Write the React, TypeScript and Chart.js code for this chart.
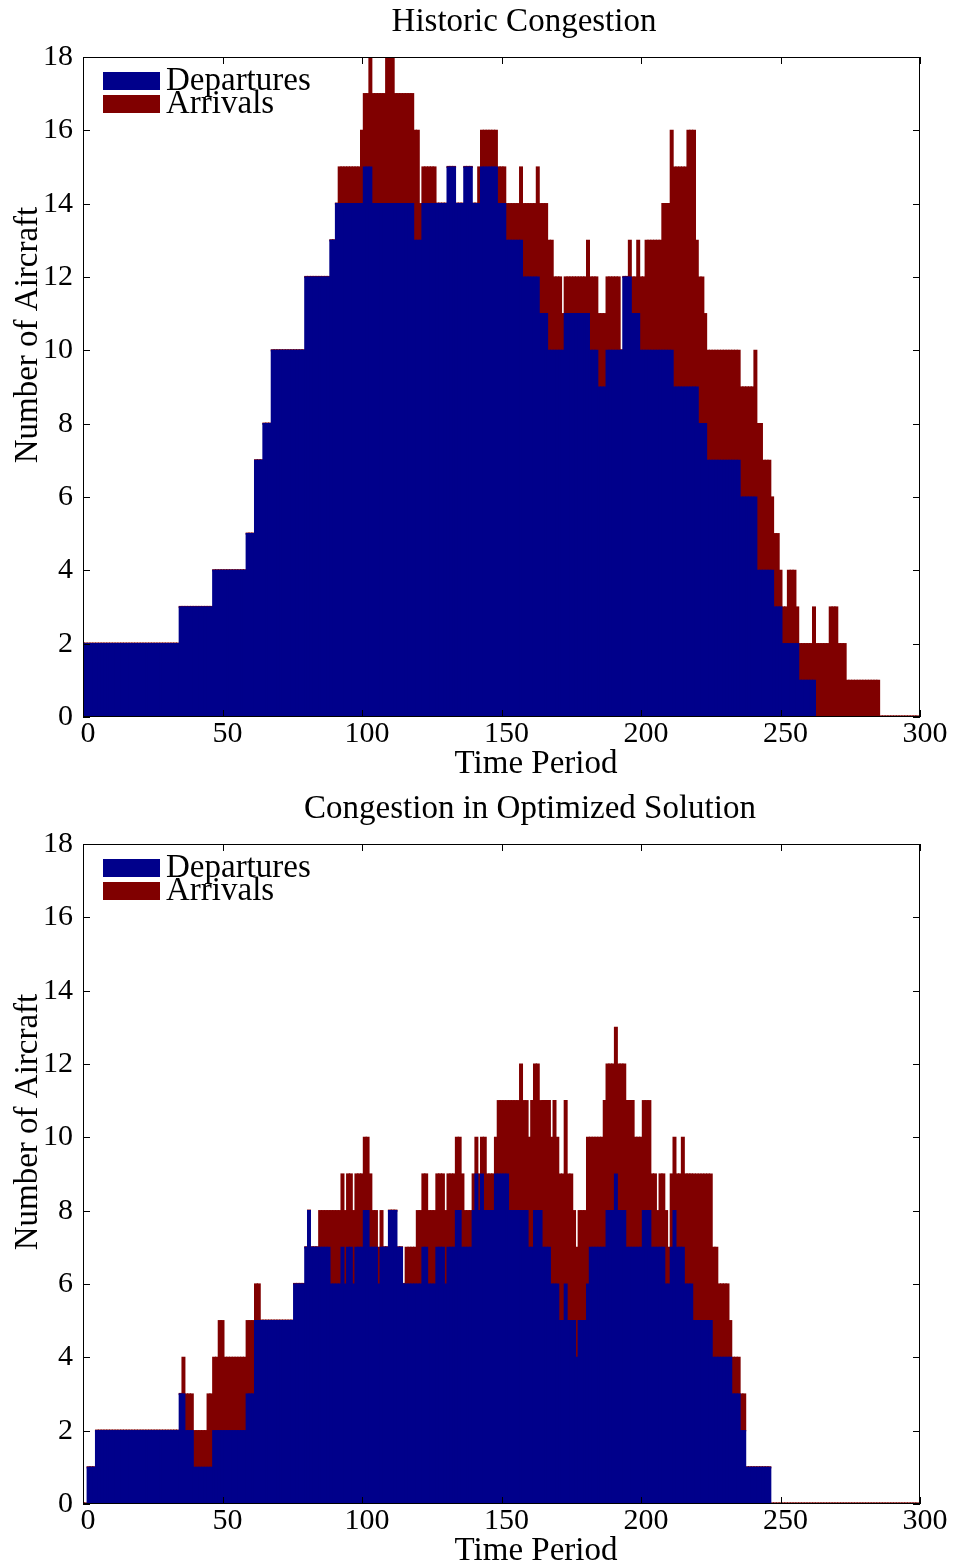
import React, { useEffect, useRef } from "react";
import { Chart, registerables } from "chart.js";

Chart.register(...registerables);

// ---------- data ----------
const TIME_PERIODS: number[] = Array.from({ length: 300 }, (_, i) => i);
const X_TICKS = [0, 50, 100, 150, 200, 250, 300];
const Y_TICKS = [0, 2, 4, 6, 8, 10, 12, 14, 16, 18];
const SERIES_LABELS = ["Departures", "Arrivals"];
const CHART_TITLES = ["Historic Congestion", "Congestion in Optimized Solution"];
const X_TITLE = "Time Period";
const Y_TITLE = "Number of Aircraft";

const historicDepartures = [
  2, 2, 2, 2, 2, 2, 2, 2, 2, 2,
  2, 2, 2, 2, 2, 2, 2, 2, 2, 2,
  2, 2, 2, 2, 2, 2, 2, 2, 2, 2,
  2, 2, 2, 2, 2, 3, 3, 3, 3, 3,
  3, 3, 3, 3, 3, 3, 3, 4, 4, 4,
  4, 4, 4, 4, 4, 4, 4, 4, 4, 5,
  5, 5, 7, 7, 7, 8, 8, 8, 10, 10,
  10, 10, 10, 10, 10, 10, 10, 10, 10, 10,
  12, 12, 12, 12, 12, 12, 12, 12, 12, 13,
  13, 14, 14, 14, 14, 14, 14, 14, 14, 14,
  14, 15, 15, 15, 14, 14, 14, 14, 14, 14,
  14, 14, 14, 14, 14, 14, 14, 14, 14, 13,
  13, 13, 14, 14, 14, 14, 14, 14, 14, 14,
  14, 15, 15, 15, 14, 14, 14, 15, 15, 15,
  14, 14, 14, 15, 15, 15, 15, 15, 15, 14,
  14, 14, 13, 13, 13, 13, 13, 13, 12, 12,
  12, 12, 12, 12, 11, 11, 11, 10, 10, 10,
  10, 10, 10, 11, 11, 11, 11, 11, 11, 11,
  11, 11, 10, 10, 10, 9, 9, 9, 10, 10,
  10, 10, 10, 10, 12, 12, 12, 11, 11, 11,
  10, 10, 10, 10, 10, 10, 10, 10, 10, 10,
  10, 10, 9, 9, 9, 9, 9, 9, 9, 9,
  9, 8, 8, 8, 7, 7, 7, 7, 7, 7,
  7, 7, 7, 7, 7, 7, 6, 6, 6, 6,
  6, 6, 4, 4, 4, 4, 4, 4, 3, 3,
  3, 2, 2, 2, 2, 2, 2, 1, 1, 1,
  1, 1, 1, 0, 0, 0, 0, 0, 0, 0,
  0, 0, 0, 0, 0, 0, 0, 0, 0, 0,
  0, 0, 0, 0, 0, 0, 0, 0, 0, 0,
  0, 0, 0, 0, 0, 0, 0, 0, 0, 0,
];

const historicArrivals = [
  0, 0, 0, 0, 0, 0, 0, 0, 0, 0,
  0, 0, 0, 0, 0, 0, 0, 0, 0, 0,
  0, 0, 0, 0, 0, 0, 0, 0, 0, 0,
  0, 0, 0, 0, 0, 0, 0, 0, 0, 0,
  0, 0, 0, 0, 0, 0, 0, 0, 0, 0,
  0, 0, 0, 0, 0, 0, 0, 0, 0, 0,
  0, 0, 0, 0, 0, 0, 0, 0, 0, 0,
  0, 0, 0, 0, 0, 0, 0, 0, 0, 0,
  0, 0, 0, 0, 0, 0, 0, 0, 0, 0,
  0, 0, 1, 1, 1, 1, 1, 1, 1, 1,
  2, 2, 2, 3, 3, 3, 3, 3, 3, 4,
  4, 4, 3, 3, 3, 3, 3, 3, 3, 3,
  3, 1, 1, 1, 1, 1, 1, 0, 0, 0,
  0, 0, 0, 0, 0, 0, 0, 0, 0, 0,
  0, 0, 1, 1, 1, 1, 1, 1, 1, 1,
  1, 1, 1, 1, 1, 1, 1, 2, 2, 2,
  2, 2, 2, 3, 3, 3, 3, 3, 3, 2,
  2, 2, 1, 1, 1, 1, 1, 1, 1, 1,
  1, 2, 2, 2, 2, 2, 2, 2, 2, 2,
  2, 2, 2, 0, 0, 0, 1, 1, 1, 2,
  2, 2, 3, 3, 3, 3, 3, 3, 4, 4,
  4, 6, 6, 6, 6, 6, 6, 7, 7, 7,
  4, 4, 4, 3, 3, 3, 3, 3, 3, 3,
  3, 3, 3, 3, 3, 3, 3, 3, 3, 3,
  3, 4, 4, 4, 3, 3, 3, 2, 2, 2,
  1, 1, 1, 2, 2, 2, 1, 1, 1, 1,
  1, 1, 2, 2, 2, 2, 2, 2, 3, 3,
  3, 2, 2, 2, 1, 1, 1, 1, 1, 1,
  1, 1, 1, 1, 1, 1, 0, 0, 0, 0,
  0, 0, 0, 0, 0, 0, 0, 0, 0, 0,
];

const optimizedDepartures = [
  0, 0, 1, 1, 1, 2, 2, 2, 2, 2,
  2, 2, 2, 2, 2, 2, 2, 2, 2, 2,
  2, 2, 2, 2, 2, 2, 2, 2, 2, 2,
  2, 2, 2, 2, 2, 3, 3, 2, 2, 2,
  1, 1, 1, 1, 1, 1, 1, 2, 2, 2,
  2, 2, 2, 2, 2, 2, 2, 2, 2, 3,
  3, 3, 5, 5, 5, 5, 5, 5, 5, 5,
  5, 5, 5, 5, 5, 5, 6, 6, 6, 6,
  7, 8, 7, 7, 7, 7, 7, 7, 7, 6,
  6, 6, 6, 7, 6, 7, 7, 6, 7, 7,
  7, 8, 8, 7, 7, 7, 6, 7, 7, 7,
  8, 8, 8, 7, 7, 6, 6, 6, 6, 6,
  6, 6, 7, 7, 6, 6, 6, 7, 7, 7,
  6, 7, 7, 7, 8, 8, 7, 7, 7, 7,
  8, 9, 8, 9, 8, 8, 8, 8, 9, 9,
  9, 9, 9, 8, 8, 8, 8, 8, 8, 8,
  7, 7, 8, 8, 8, 7, 7, 7, 6, 6,
  6, 5, 5, 6, 5, 5, 5, 4, 5, 5,
  5, 6, 7, 7, 7, 7, 7, 7, 8, 8,
  8, 9, 8, 8, 8, 7, 7, 7, 7, 7,
  7, 8, 8, 8, 7, 7, 7, 7, 7, 6,
  6, 7, 8, 7, 7, 7, 6, 6, 6, 5,
  5, 5, 5, 5, 5, 5, 4, 4, 4, 4,
  4, 4, 4, 3, 3, 3, 2, 2, 1, 1,
  1, 1, 1, 1, 1, 1, 1, 0, 0, 0,
  0, 0, 0, 0, 0, 0, 0, 0, 0, 0,
  0, 0, 0, 0, 0, 0, 0, 0, 0, 0,
  0, 0, 0, 0, 0, 0, 0, 0, 0, 0,
  0, 0, 0, 0, 0, 0, 0, 0, 0, 0,
  0, 0, 0, 0, 0, 0, 0, 0, 0, 0,
];

const optimizedArrivals = [
  0, 0, 0, 0, 0, 0, 0, 0, 0, 0,
  0, 0, 0, 0, 0, 0, 0, 0, 0, 0,
  0, 0, 0, 0, 0, 0, 0, 0, 0, 0,
  0, 0, 0, 0, 0, 0, 1, 1, 1, 1,
  1, 1, 1, 1, 1, 2, 2, 2, 2, 3,
  3, 2, 2, 2, 2, 2, 2, 2, 2, 2,
  2, 2, 1, 1, 0, 0, 0, 0, 0, 0,
  0, 0, 0, 0, 0, 0, 0, 0, 0, 0,
  0, 0, 0, 0, 0, 1, 1, 1, 1, 2,
  2, 2, 2, 2, 2, 2, 2, 2, 2, 2,
  2, 2, 2, 2, 1, 1, 1, 1, 0, 0,
  0, 0, 0, 0, 0, 0, 1, 1, 1, 1,
  2, 2, 2, 2, 2, 2, 2, 2, 2, 2,
  2, 2, 2, 2, 2, 2, 2, 1, 1, 1,
  1, 1, 1, 1, 2, 1, 1, 1, 1, 2,
  2, 2, 2, 3, 3, 3, 3, 4, 3, 3,
  3, 4, 4, 4, 3, 4, 4, 4, 4, 5,
  4, 4, 4, 5, 4, 4, 3, 3, 3, 3,
  3, 4, 3, 3, 3, 3, 3, 4, 4, 4,
  4, 4, 4, 4, 4, 4, 4, 4, 3, 3,
  3, 3, 3, 3, 2, 2, 1, 2, 2, 2,
  1, 2, 2, 2, 2, 3, 3, 3, 3, 4,
  4, 4, 4, 4, 4, 4, 3, 3, 2, 2,
  2, 2, 1, 1, 1, 1, 1, 1, 0, 0,
  0, 0, 0, 0, 0, 0, 0, 0, 0, 0,
  0, 0, 0, 0, 0, 0, 0, 0, 0, 0,
  0, 0, 0, 0, 0, 0, 0, 0, 0, 0,
  0, 0, 0, 0, 0, 0, 0, 0, 0, 0,
  0, 0, 0, 0, 0, 0, 0, 0, 0, 0,
  0, 0, 0, 0, 0, 0, 0, 0, 0, 0,
];

// ---------- styles ----------
const BLUE = "#00008b";
const RED = "#800000";
const FONT_FAMILY = '"Liberation Serif", "Times New Roman", serif';
const CANVAS_W = 956;
const CANVAS_H = 784;
const PLOT_LEFT = 83;
const PLOT_RIGHT = 920;

type PanelProps = {
  title: string;
  departures: number[];
  arrivals: number[];
  plotTop: number;
  titleX: number;
};

function Panel({ title, departures, arrivals, plotTop, titleX }: PanelProps) {
  const ref = useRef<HTMLCanvasElement | null>(null);

  useEffect(() => {
    const canvas = ref.current;
    if (!canvas) return;
    const plotBottom = plotTop + 660;

    const decor = {
      id: "decor",
      afterDraw(chart: any) {
        const { ctx, chartArea: a, scales } = chart;
        ctx.save();
        // frame
        ctx.strokeStyle = "#000";
        ctx.lineWidth = 1;
        ctx.strokeRect(a.left + 0.5, a.top + 0.5, a.right - a.left - 1, a.bottom - a.top - 1);
        // inward ticks
        ctx.beginPath();
        X_TICKS.forEach((v) => {
          const px = Math.round(scales.x.getPixelForValue(v)) + 0.5;
          ctx.moveTo(px, a.bottom);
          ctx.lineTo(px, a.bottom - 7);
          ctx.moveTo(px, a.top);
          ctx.lineTo(px, a.top + 7);
        });
        Y_TICKS.forEach((v) => {
          const py = Math.round(scales.y.getPixelForValue(v)) + 0.5;
          ctx.moveTo(a.left, py);
          ctx.lineTo(a.left + 7, py);
          ctx.moveTo(a.right, py);
          ctx.lineTo(a.right - 7, py);
        });
        ctx.stroke();

        // texts
        ctx.fillStyle = "#000";
        ctx.font = `33px ${FONT_FAMILY}`;
        ctx.textAlign = "center";
        ctx.textBaseline = "alphabetic";
        ctx.fillText(title, titleX, a.top - 26);
        ctx.fillText(X_TITLE, 536, a.bottom + 56);
        ctx.save();
        ctx.translate(37, a.top + 278);
        ctx.rotate(-Math.PI / 2);
        ctx.fillText(Y_TITLE, 0, 0);
        ctx.restore();

        // legend
        const colors = [BLUE, RED];
        ctx.textAlign = "left";
        SERIES_LABELS.forEach((label, i) => {
          const top = a.top + 15 + i * 23;
          ctx.fillStyle = colors[i];
          ctx.fillRect(103, top, 57, 18);
          ctx.fillStyle = "#000";
          ctx.fillText(label, 166, top + 17.5);
        });
        ctx.restore();
      },
    };

    const chart = new Chart(canvas, {
      type: "bar",
      data: {
        datasets: [
          {
            label: SERIES_LABELS[0],
            data: TIME_PERIODS.map((t, i) => ({ x: t, y: departures[i] })),
            backgroundColor: BLUE,
            borderWidth: 0,
            barPercentage: 1,
            categoryPercentage: 1,
            inflateAmount: 0.6,
          },
          {
            label: SERIES_LABELS[1],
            data: TIME_PERIODS.map((t, i) => ({ x: t, y: arrivals[i] })),
            backgroundColor: RED,
            borderWidth: 0,
            barPercentage: 1,
            categoryPercentage: 1,
            inflateAmount: 0.6,
            minBarLength: 1,
          },
        ] as any,
      },
      options: {
        animation: false,
        responsive: false,
        devicePixelRatio: 1,
        layout: {
          padding: { left: 0, right: CANVAS_W - PLOT_RIGHT, top: plotTop, bottom: 0 },
        },
        plugins: {
          legend: { display: false },
          title: { display: false },
          tooltip: { enabled: false },
        },
        scales: {
          x: {
            type: "linear",
            min: 0,
            max: 300,
            stacked: true,
            offset: false,
            grid: { display: false, drawTicks: false },
            border: { display: false },
            ticks: {
              stepSize: 50,
              color: "#000",
              font: { family: FONT_FAMILY, size: 30 },
              padding: -1,
              labelOffset: 5,
              maxRotation: 0,
              autoSkip: false,
            },
            afterFit: (s: any) => {
              s.height = CANVAS_H - plotBottom;
            },
          },
          y: {
            type: "linear",
            min: 0,
            max: 18,
            stacked: true,
            grid: { display: false, drawTicks: false },
            border: { display: false },
            ticks: {
              stepSize: 2,
              color: "#000",
              font: { family: FONT_FAMILY, size: 30 },
              padding: 10,
            },
            afterFit: (s: any) => {
              s.width = PLOT_LEFT;
            },
          },
        },
      } as any,
      plugins: [decor],
    });
    return () => chart.destroy();
  }, [title, departures, arrivals, plotTop, titleX]);

  return (
    <canvas
      ref={ref}
      width={CANVAS_W}
      height={CANVAS_H}
      style={{ display: "block", width: CANVAS_W, height: CANVAS_H }}
    />
  );
}

export default function App() {
  useEffect(() => {
    document.body.style.margin = "0";
  }, []);
  return (
    <div style={{ width: CANVAS_W, background: "#fff" }}>
      <Panel
        title={CHART_TITLES[0]}
        departures={historicDepartures}
        arrivals={historicArrivals}
        plotTop={57}
        titleX={524}
      />
      <Panel
        title={CHART_TITLES[1]}
        departures={optimizedDepartures}
        arrivals={optimizedArrivals}
        plotTop={60}
        titleX={530}
      />
    </div>
  );
}
